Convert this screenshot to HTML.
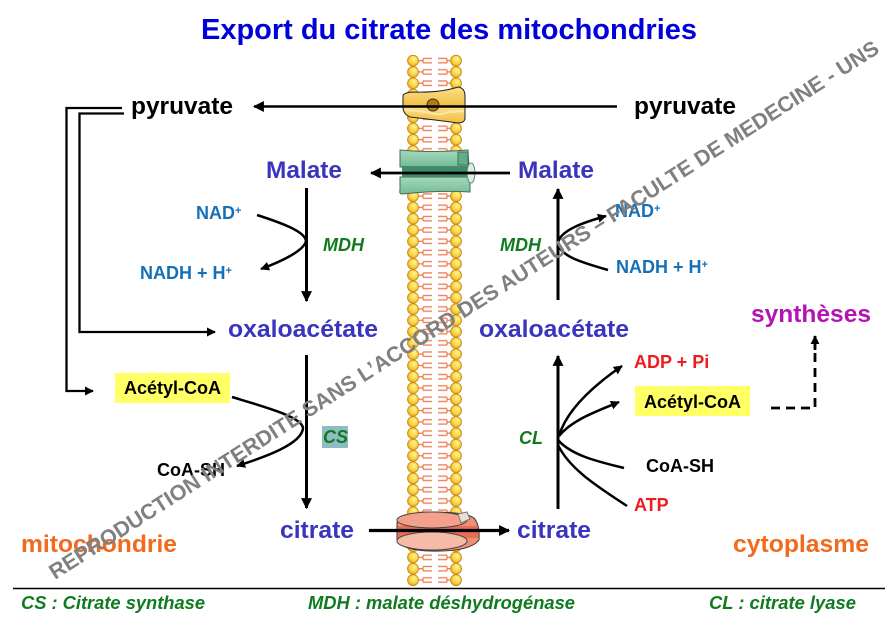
<!DOCTYPE html>
<html lang="fr"><head><meta charset="utf-8"><title>Export du citrate des mitochondries</title>
<style>html,body{margin:0;padding:0;background:#fff}svg{display:block}text{font-family:"Liberation Sans",Arial,sans-serif;font-weight:bold}</style></head>
<body>
<svg xmlns="http://www.w3.org/2000/svg" width="886" height="629" viewBox="0 0 886 629">
<defs>
<radialGradient id="b" cx="0.6" cy="0.35" r="0.7"><stop offset="0" stop-color="#fff48c"/><stop offset="0.6" stop-color="#fbd244"/><stop offset="1" stop-color="#eba820"/></radialGradient>
<linearGradient id="y1" x1="0" y1="0" x2="0" y2="1"><stop offset="0" stop-color="#fbe08a"/><stop offset="1" stop-color="#f0bc40"/></linearGradient>
<linearGradient id="g1" x1="0" y1="0" x2="0" y2="1"><stop offset="0" stop-color="#a4d8bc"/><stop offset="1" stop-color="#74bb97"/></linearGradient>
<pattern id="lip" x="407" y="55.05" width="56" height="11.29" patternUnits="userSpaceOnUse">
<path d="M11 5.6H16M16 3.4H25M16 7.8H25M16 3.4V7.8M45 5.6H40M40 3.4H31M40 7.8H31M40 3.4V7.8" fill="none" stroke="#f08058" stroke-width="1.300"/>
<circle cx="6" cy="5.6" r="5.400" fill="url(#b)" stroke="#c98c18" stroke-width="1"/>
<circle cx="49" cy="5.6" r="5.400" fill="url(#b)" stroke="#c98c18" stroke-width="1"/>
</pattern>
<marker id="a" viewBox="0 0 10 10" refX="9" refY="5" markerWidth="11" markerHeight="11" markerUnits="userSpaceOnUse" orient="auto"><path d="M0 0L10 5L0 10Z" fill="#000"/></marker>
<marker id="s" viewBox="0 0 10 10" refX="9" refY="5" markerWidth="9" markerHeight="9" markerUnits="userSpaceOnUse" orient="auto"><path d="M0 0L10 5L0 10Z" fill="#000"/></marker>
</defs>
<rect width="886" height="629" fill="#fff"/>

<text x="449" y="39" font-size="29" fill="#0000dc" text-anchor="middle" textLength="496" lengthAdjust="spacingAndGlyphs">Export du citrate des mitochondries</text>

<rect x="407" y="55" width="56" height="531" fill="url(#lip)"/>

<!-- yellow channel -->
<path d="M403 96Q403 93 412 92Q440 93 458 87Q465 88 465 96V107H403Z" fill="url(#y1)" stroke="#222" stroke-width="1"/>
<path d="M403 107H465V119Q464 123 458 123Q436 120 410 117Q403 114 403 107Z" fill="url(#y1)" stroke="#222" stroke-width="1"/>
<path d="M405 110Q420 111 431 113Q440 116 448 112L464 111" fill="none" stroke="#fbe7a6" stroke-width="2"/>
<circle cx="433" cy="105" r="6" fill="#b87812" stroke="#333" stroke-width="1"/>

<!-- green channel -->
<path d="M400 150Q430 153 468 150L469 167H400Z" fill="url(#g1)" stroke="#4a6a5a" stroke-width="1"/>
<path d="M400 177H470V192Q440 190 402 194Q399 194 400 190Z" fill="url(#g1)" stroke="#4a6a5a" stroke-width="1"/>
<rect x="402" y="166" width="68" height="11" fill="#3f8d68"/>
<rect x="458" y="152" width="10" height="13" fill="#5fae87" stroke="#40705a"/>
<ellipse cx="471" cy="173" rx="4" ry="10" fill="#dcefe5" stroke="#5a8a70"/>

<!-- red channel -->
<path d="M397 523V539Q400 550 430 551Q470 552 479 540Q480 525 474 518Q466 512 430 512Q398 513 397 523Z" fill="#ee8f78" stroke="#333" stroke-width="1"/>
<rect x="398" y="526" width="80" height="12" fill="#e8604a" opacity=".75"/>
<ellipse cx="432" cy="520" rx="35" ry="8" fill="#f4a08c" stroke="#444" stroke-width="1"/>
<ellipse cx="432" cy="541" rx="35" ry="9" fill="#f5bba8" stroke="#444" stroke-width="1"/>
<path d="M458 514L467 512L470 519L461 523Z" fill="#e8e0d0" stroke="#777"/>

<!-- horizontal arrows -->
<g fill="none" stroke="#000" stroke-linecap="butt">
<path d="M617 106.500H254" stroke-width="2.500" marker-end="url(#a)"/>
<path d="M510 173H371" stroke-width="2.800" marker-end="url(#a)"/>
<path d="M369 530.500H509" stroke-width="3.200" marker-end="url(#a)"/>
<path d="M122 108H66.500V391H93" stroke-width="2.300" marker-end="url(#s)"/>
<path d="M124 113.500H79.500V332H215" stroke-width="2.300" marker-end="url(#s)"/>

<!-- left verticals -->
<path d="M306.500 188V301" stroke-width="3" marker-end="url(#a)"/>
<path d="M306.500 355V508" stroke-width="3" marker-end="url(#a)"/>
<path d="M257 215C285 224 305 232 306 241C304 251 280 262 261 269" stroke-width="2.500" marker-end="url(#s)"/>
<path d="M232 397C265 407 302 417 303 428C302 444 265 457 237 466" stroke-width="2.500" marker-end="url(#s)"/>

<!-- right verticals -->
<path d="M558 300V189" stroke-width="3" marker-end="url(#a)"/>
<path d="M558 509V356" stroke-width="3" marker-end="url(#a)"/>
<path d="M608 270C580 262 560 256 558 243C560 230 585 222 606 216" stroke-width="2.500" marker-end="url(#s)"/>
<path d="M559 436C566 412 590 388 622 366" stroke-width="2.500" marker-end="url(#s)"/>
<path d="M559 436C572 420 595 412 619 402" stroke-width="2.500" marker-end="url(#s)"/>
<path d="M558 440C572 456 600 462 624 468" stroke-width="2.500"/>
<path d="M558 445C570 470 600 488 627 506" stroke-width="2.500"/>

<!-- dashed -->
<path d="M771 408H815V345" stroke-width="2.800" stroke-dasharray="9 6"/>
<path d="M815 350V336" stroke-width="2.800" marker-end="url(#s)"/>
<path d="M13 588.500H885" stroke-width="1.500"/>
</g>

<rect x="115" y="373" width="115" height="30" fill="#ffff66"/>
<rect x="635" y="386" width="115" height="30" fill="#ffff66"/>
<rect x="322" y="426" width="26" height="22" fill="#8fbcc4"/>

<text x="131" y="114" font-size="24" fill="#000" textLength="102" lengthAdjust="spacingAndGlyphs">pyruvate</text>
<text x="634" y="114" font-size="24" fill="#000" textLength="102" lengthAdjust="spacingAndGlyphs">pyruvate</text>
<g fill="#3a35bd" font-size="24.500">
<text x="266" y="178" textLength="76" lengthAdjust="spacingAndGlyphs">Malate</text>
<text x="518" y="178" textLength="76" lengthAdjust="spacingAndGlyphs">Malate</text>
<text x="228" y="337" textLength="150" lengthAdjust="spacingAndGlyphs">oxaloacétate</text>
<text x="479" y="337" textLength="150" lengthAdjust="spacingAndGlyphs">oxaloacétate</text>
<text x="280" y="538" textLength="74" lengthAdjust="spacingAndGlyphs">citrate</text>
<text x="517" y="538" textLength="74" lengthAdjust="spacingAndGlyphs">citrate</text>
</g>
<g fill="#1570b8" font-size="18">
<text x="196" y="219">NAD<tspan font-size="11" dy="-5">+</tspan></text>
<text x="140" y="279">NADH + H<tspan font-size="11" dy="-5">+</tspan></text>
<text x="615" y="217">NAD<tspan font-size="11" dy="-5">+</tspan></text>
<text x="616" y="273">NADH + H<tspan font-size="11" dy="-5">+</tspan></text>
</g>
<g fill="#0f7a1e" font-style="italic" font-size="18">
<text x="323" y="251">MDH</text>
<text x="500" y="251">MDH</text>
<text x="323" y="443">CS</text>
<text x="519" y="444">CL</text>
</g>
<g fill="#000" font-size="18">
<text x="124" y="394">Acétyl-CoA</text>
<text x="644" y="408">Acétyl-CoA</text>
<text x="157" y="476">CoA-SH</text>
<text x="646" y="472">CoA-SH</text>
</g>
<g fill="#ee1c1c" font-size="18">
<text x="634" y="368">ADP + Pi</text>
<text x="634" y="511">ATP</text>
</g>
<text x="751" y="322" font-size="24.500" fill="#b313b3" textLength="120" lengthAdjust="spacingAndGlyphs">synthèses</text>
<g fill="#f26a1b" font-size="24.500">
<text x="21" y="552" textLength="156" lengthAdjust="spacingAndGlyphs">mitochondrie</text>
<text x="733" y="552" textLength="136" lengthAdjust="spacingAndGlyphs">cytoplasme</text>
</g>
<g fill="#0f7a1e" font-style="italic" font-size="18">
<text x="21" y="609" textLength="184" lengthAdjust="spacingAndGlyphs">CS : Citrate synthase</text>
<text x="308" y="609" textLength="267" lengthAdjust="spacingAndGlyphs">MDH : malate déshydrogénase</text>
<text x="709" y="609" textLength="147" lengthAdjust="spacingAndGlyphs">CL : citrate lyase</text>
</g>

<text transform="translate(55 580) rotate(-32.6)" font-size="21.500" fill="#808080" textLength="980" lengthAdjust="spacingAndGlyphs">REPRODUCTION INTERDITE SANS L’ACCORD DES AUTEURS – FACULTE DE MEDECINE - UNS</text>
</svg>
</body></html>
